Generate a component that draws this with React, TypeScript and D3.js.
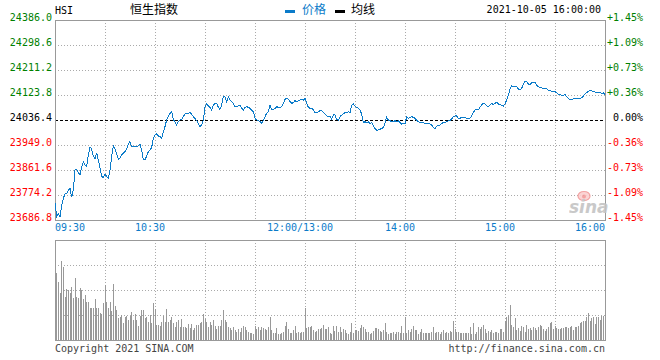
import React from "react";
import * as d3 from "d3";

// ---- data ----
const preClose = 24036.4;
const prices = [
  23745.1, 23698.5, 23710.1, 23698.5, 23739.2, 23762.5, 23777.7, 23780.0, 23791.7, 23797.5,
  23766.0, 23791.7, 23861.6, 23863.9, 23852.3, 23844.1, 23873.3, 23890.7, 23879.1, 23873.3,
  23914.0, 23943.2, 23933.9, 23910.5, 23898.9, 23922.2, 23896.6, 23867.4, 23838.3, 23836.0,
  23847.6, 23838.3, 23832.5, 23861.6, 23908.2, 23945.5, 23933.9, 23919.9, 23898.9, 23902.4,
  23914.0, 23919.9, 23925.7, 23933.9, 23952.5, 23960.7, 23943.2, 23943.2, 23943.2, 23943.2,
  23945.5, 23952.5, 23931.5, 23898.9, 23896.6, 23910.5, 23925.7, 23931.5, 23940.8, 23972.3,
  23984.0, 23987.5, 23980.5, 23978.1, 23972.3, 23995.6, 24013.1, 24036.4, 24048.1, 24059.7,
  24065.5, 24036.4, 24030.6, 24018.9, 24030.6, 24036.4, 24038.7, 24048.1, 24057.4, 24059.7,
  24059.7, 24063.2, 24056.2, 24048.1, 24042.2, 24034.1, 24024.7, 24013.1, 24018.9, 24036.4,
  24083.0, 24094.7, 24085.3, 24080.7, 24071.4, 24088.8, 24094.7, 24094.7, 24080.7, 24073.7,
  24088.8, 24120.3, 24118.0, 24100.5, 24118.0, 24106.3, 24100.5, 24094.7, 24083.0, 24083.0,
  24085.3, 24088.8, 24077.2, 24071.4, 24080.7, 24083.0, 24080.7, 24077.2, 24071.4, 24065.5,
  24042.2, 24036.4, 24034.1, 24030.6, 24024.7, 24034.1, 24048.1, 24059.7, 24065.5, 24088.8,
  24073.7, 24073.7, 24077.2, 24083.0, 24080.7, 24080.7, 24083.0, 24094.7, 24108.7, 24112.1,
  24108.7, 24100.5, 24094.7, 24097.0, 24104.0, 24100.5, 24104.0, 24106.3, 24108.7, 24106.3,
  24112.1, 24094.7, 24080.7, 24077.2, 24077.2, 24071.4, 24062.0, 24062.0, 24065.5, 24069.0,
  24069.0, 24062.0, 24057.4, 24050.4, 24048.1, 24048.1, 24039.9, 24053.9, 24053.9, 24038.7,
  24036.4, 24048.1, 24053.9, 24057.4, 24062.0, 24062.0, 24065.5, 24062.0, 24087.7, 24092.3,
  24085.3, 24080.7, 24077.2, 24071.4, 24057.4, 24027.1, 24030.6, 24027.1, 24030.6, 24024.7,
  24027.1, 24015.4, 24007.3, 24001.4, 24001.4, 24003.8, 24007.3, 24009.6, 24027.1, 24045.7,
  24036.4, 24034.1, 24030.6, 24030.6, 24034.1, 24030.6, 24034.1, 24027.1, 24022.4, 24024.7,
  24022.4, 24048.1, 24042.2, 24045.7, 24048.1, 24045.7, 24042.2, 24036.4, 24030.6, 24027.1,
  24027.1, 24027.1, 24024.7, 24024.7, 24024.7, 24022.4, 24018.9, 24010.8, 24006.1, 24015.4,
  24018.9, 24018.9, 24024.7, 24027.1, 24027.1, 24030.6, 24034.1, 24034.1, 24039.9, 24048.1,
  24050.4, 24050.4, 24042.2, 24042.2, 24045.7, 24045.7, 24045.7, 24042.2, 24042.2, 24042.2,
  24050.4, 24062.0, 24071.4, 24071.4, 24071.4, 24080.7, 24088.8, 24094.7, 24092.3, 24085.3,
  24083.0, 24088.8, 24094.7, 24090.0, 24094.7, 24098.2, 24092.3, 24091.2, 24086.5, 24085.3,
  24092.3, 24106.3, 24123.8, 24143.6, 24155.3, 24152.9, 24152.9, 24152.9, 24144.8, 24141.3,
  24147.1, 24162.3, 24170.4, 24170.4, 24162.3, 24161.1, 24166.9, 24169.2, 24168.1, 24158.8,
  24152.9, 24150.6, 24148.3, 24145.9, 24144.8, 24144.8, 24141.3, 24140.1, 24136.6, 24135.5,
  24135.5, 24132.0, 24127.3, 24126.1, 24122.6, 24122.6, 24125.0, 24118.0, 24111.0, 24108.7,
  24109.8, 24109.8, 24111.0, 24112.1, 24112.1, 24112.1, 24114.5, 24120.3, 24127.3, 24132.0,
  24136.6, 24141.3, 24138.9, 24135.5, 24134.3, 24130.8, 24132.0, 24133.1, 24128.5, 24132.0,
  24126.1,
];
const volumes = [
  0, 202, 175, 140, 237, 220, 130, 153, 150, 140,
  160, 125, 185, 130, 125, 155, 150, 122, 135, 115,
  115, 95, 97, 97, 122, 95, 97, 80, 78, 110,
  165, 113, 97, 115, 88, 167, 102, 90, 65, 70,
  74, 52, 70, 73, 60, 72, 85, 60, 78, 60,
  42, 72, 90, 90, 65, 68, 55, 75, 52, 112,
  92, 45, 45, 42, 55, 72, 55, 92, 55, 60,
  70, 52, 40, 55, 60, 38, 62, 38, 38, 35,
  48, 35, 48, 30, 35, 45, 45, 52, 55, 78,
  62, 55, 38, 55, 45, 60, 42, 32, 42, 42,
  60, 90, 60, 55, 40, 35, 30, 38, 30, 25,
  32, 25, 35, 42, 38, 30, 25, 20, 20, 18,
  42, 32, 38, 30, 38, 35, 32, 30, 38, 68,
  30, 20, 20, 35, 18, 18, 20, 25, 42, 55,
  32, 20, 22, 30, 42, 22, 25, 22, 25, 25,
  95, 35, 38, 38, 42, 30, 25, 28, 32, 32,
  35, 45, 32, 32, 38, 20, 18, 42, 28, 42,
  25, 38, 25, 32, 30, 20, 18, 25, 52, 22,
  30, 30, 28, 35, 45, 38, 32, 25, 25, 18,
  22, 28, 35, 35, 32, 28, 25, 30, 52, 25,
  18, 20, 22, 25, 18, 25, 25, 22, 42, 22,
  68, 20, 30, 25, 32, 42, 30, 30, 18, 25,
  32, 22, 20, 22, 20, 22, 25, 38, 22, 25,
  25, 18, 25, 30, 20, 25, 20, 28, 25, 58,
  32, 25, 25, 20, 22, 20, 20, 20, 20, 38,
  18, 52, 18, 25, 38, 32, 38, 45, 32, 22,
  28, 25, 30, 22, 25, 25, 20, 32, 32, 25,
  58, 70, 75, 105, 45, 38, 65, 30, 35, 28,
  42, 38, 25, 45, 32, 35, 30, 38, 35, 30,
  38, 45, 42, 32, 28, 32, 38, 50, 55, 32,
  42, 35, 32, 32, 35, 35, 38, 40, 35, 40,
  42, 30, 38, 38, 42, 52, 55, 58, 58, 68,
  80, 58, 65, 68, 48, 70, 68, 60, 72, 72,
  115,
];
const priceTicks = [24386.0, 24298.6, 24211.2, 24123.8, 24036.4, 23949.0, 23861.6, 23774.2, 23686.8];
const pctTicks = ["+1.45%", "+1.09%", "+0.73%", "+0.36%", "0.00%", "-0.36%", "-0.73%", "-1.09%", "-1.45%"];
const timeLabels = ["09:30", "10:30", "12:00/13:00", "14:00", "15:00", "16:00"];
const timeLabelIdx = [0, 60, 150, 210, 270, 330];
const volGridTicks = [75, 150, 225];
const volMax = 300;
const totalMinutes = 330;
const titleCode = "HSI";
const titleName = "恒生指数";
const legendItems = ["价格", "均线"];
const dateText = "2021-10-05 16:00:00";
const copyright = "Copyright 2021 SINA.COM";
const siteUrl = "http://finance.sina.com.cn";

// ---- layout ----
const W = 660, H = 360;
const L = 55, R = 605;
const MT = 20, MB = 220;
const VT = 240, VB = 340;
const MONO = "'DejaVu Sans Mono', monospace";
const CJK = "'Noto Sans CJK SC', sans-serif";
const BLUE = "#0b7bc9";
const GREEN = "#008000";
const RED = "#ff0000";
const FRAME = "#999999";
const GRID = "#aaaaaa";

export default function App() {
  const x = d3.scaleLinear().domain([0, totalMinutes]).range([L, R]);
  const y = d3.scaleLinear().domain([priceTicks[priceTicks.length - 1], priceTicks[0]]).range([MB, MT]);
  const v = d3.scaleLinear().domain([0, volMax]).range([VB, VT]);
  const line = d3.line<number>().x((_, i) => x(i)).y((d) => y(d));
  const vGrid = d3.range(30, totalMinutes, 30);
  const mid = Math.floor(priceTicks.length / 2);
  const colorFor = (k: number) => (k < mid ? GREEN : k > mid ? RED : "#000");

  return (
    <svg width={W} height={H} style={{ position: "absolute", left: 0, top: 0, background: "#fff" }}>
      <rect x={0} y={0} width={W} height={H} fill="#fff" />
      {/* header */}
      <text x={L} y={14} fontFamily={MONO} fontSize={10} fill="#000">{titleCode}</text>
      <text x={154} y={14} fontFamily={CJK} fontSize={12} fill="#000" textAnchor="middle">{titleName}</text>
      <rect x={285} y={10} width={10} height={3} fill={BLUE} />
      <text x={302} y={14} fontFamily={CJK} fontSize={12} fill={BLUE}>{legendItems[0]}</text>
      <rect x={335} y={10} width={10} height={3} fill="#000" />
      <text x={351} y={14} fontFamily={CJK} fontSize={12} fill="#000">{legendItems[1]}</text>
      <text x={601} y={13} fontFamily={MONO} fontSize={10} fill="#000" textAnchor="end">{dateText}</text>

      {/* main grid */}
      <g shapeRendering="crispEdges">
        {priceTicks.slice(1, -1).map((p, k) =>
          k + 1 === mid ? null : (
            <line key={"h" + k} x1={L} x2={R} y1={Math.round(y(p)) + 0.5} y2={Math.round(y(p)) + 0.5}
              stroke={GRID} strokeDasharray="1,2" />
          )
        )}
        {vGrid.map((i) => (
          <line key={"v" + i} x1={Math.round(x(i)) + 0.5} x2={Math.round(x(i)) + 0.5} y1={MT} y2={MB}
            stroke={GRID} strokeDasharray="1,2" />
        ))}
        <line x1={L} x2={R} y1={Math.round(y(preClose)) + 0.5} y2={Math.round(y(preClose)) + 0.5}
          stroke="#000" strokeDasharray="3,2" />
        <rect x={L + 0.5} y={MT + 0.5} width={R - L} height={MB - MT} fill="none" stroke={FRAME} />
      </g>

      {/* axis labels */}
      {priceTicks.map((p, k) => (
        <text key={"l" + k} x={52} y={Math.round(y(p)) + 1} fontFamily={MONO} fontSize={10}
          fill={colorFor(k)} textAnchor="end">{p.toFixed(1)}</text>
      ))}
      {pctTicks.map((t, k) => (
        <text key={"r" + k} x={643} y={Math.round(y(priceTicks[k])) + 1} fontFamily={MONO} fontSize={10}
          fill={colorFor(k)} textAnchor="end">{t}</text>
      ))}
      {timeLabels.map((t, k) => {
        const first = k === 0, last = k === timeLabels.length - 1;
        const px = x(timeLabelIdx[k]);
        return (
          <text key={"t" + k} x={first ? px : last ? px : px - 5} y={231} fontFamily={MONO} fontSize={10}
            fill={BLUE} textAnchor={first ? "start" : last ? "end" : "middle"}>{t}</text>
        );
      })}

      {/* watermark */}
      <g opacity={0.9}>
        <ellipse cx={584} cy={196} rx={6} ry={4.5} fill="#fbd0d0" stroke="#f29a9a" strokeWidth={1.2} />
        <circle cx={584} cy={196.5} r={2} fill="#f29a9a" />
        <text x={569} y={213} fontFamily="'DejaVu Sans', sans-serif" fontSize={17} fontWeight="bold"
          fontStyle="italic" fill="#c4c4c4">sina</text>
      </g>

      {/* price line */}
      <path d={line(prices) || ""} fill="none" stroke={BLUE} strokeWidth={1} shapeRendering="crispEdges" />

      {/* volume */}
      <g shapeRendering="crispEdges">
        {volGridTicks.map((t) => (
          <line key={"vh" + t} x1={L} x2={R} y1={Math.round(v(t)) + 0.5} y2={Math.round(v(t)) + 0.5}
            stroke={GRID} strokeDasharray="1,2" />
        ))}
        {vGrid.map((i) => (
          <line key={"vv" + i} x1={Math.round(x(i)) + 0.5} x2={Math.round(x(i)) + 0.5} y1={VT} y2={VB}
            stroke={GRID} strokeDasharray="1,2" />
        ))}
        {volumes.map((d, i) => (
          <rect key={"b" + i} x={Math.floor(x(i))} y={v(d)} width={1} height={VB - v(d)} fill={FRAME} />
        ))}
        <rect x={L + 0.5} y={VT + 0.5} width={R - L} height={VB - VT} fill="none" stroke={FRAME} />
      </g>

      <text x={L} y={352} fontFamily={MONO} fontSize={10} fill="#444">{copyright}</text>
      <text x={R} y={352} fontFamily={MONO} fontSize={10} fill="#444" textAnchor="end">{siteUrl}</text>
    </svg>
  );
}
